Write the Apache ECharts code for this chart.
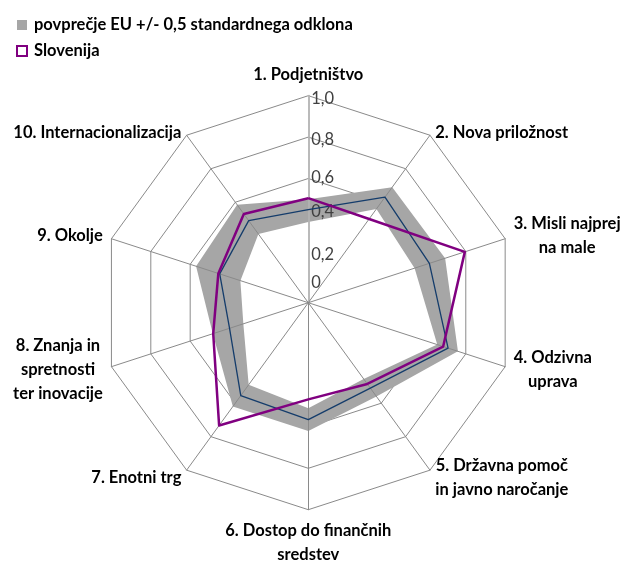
<!DOCTYPE html>
<html><head><meta charset="utf-8">
<script src="https://cdn.jsdelivr.net/npm/echarts@6/dist/echarts.min.js"></script>
<style>html,body{margin:0;padding:0;background:#fff}#c{width:626px;height:562px}</style>
</head><body><div id="c"></div>
<script>
// ---- data (clockwise order starting at the top) ----
const categories = ['1. Podjetništvo','2. Nova priložnost','3. Misli najprej\nna male','4. Odzivna\nuprava','5. Državna pomoč\nin javno naročanje','6. Dostop do finančnih\nsredstev','7. Enotni trg','8. Znanja in\nspretnosti\nter inovacije','9. Okolje','10. Internacionalizacija'];
const euAverage = [0.45, 0.63, 0.615, 0.71, 0.51, 0.565, 0.555, 0.40, 0.45, 0.49];
const euUpper   = [0.50, 0.69, 0.695, 0.76, 0.56, 0.62, 0.62, 0.485, 0.57, 0.585];
const euLower   = [0.39, 0.56, 0.54, 0.655, 0.455, 0.51, 0.49, 0.33, 0.345, 0.41];
const slovenia  = [0.505, 0.50, 0.795, 0.685, 0.485, 0.467, 0.733, 0.483, 0.457, 0.53];
const tickValues = ['0', '0,2', '0,4', '0,6', '0,8', '1,0'];
const axisMin = 0, axisMax = 1, axisSplits = 5;
const bandName = 'povprečje EU +/- 0,5 standardnega odklona';
const sloName = 'Slovenija';

// ---- styles ----
const FONT = 'Lato';
const center = [308.3, 302.7], radius = 207;
// vertical nudges of the value labels (px, + = down), mimicking the original layout
const tickShift = {'0': -20, '0,2': -7, '0,4': -8, '0,6': -1, '0,8': 3, '1,0': 3};
// vertical nudges for some category names
const nameShift = {'2. Nova priložnost': 5, '10. Internacionalizacija': 5};

// ECharts radar runs counter-clockwise: reorder so the categories run clockwise
const order = categories.map((_, i) => (categories.length - i) % categories.length);
const reorder = (arr) => order.map(i => arr[i]);

const pad = (d) => d >= 0 ? [2 * d, 0, 0, 0] : [0, 0, -2 * d, 0];
const tickRich = {};
tickValues.forEach((t, i) => {
  tickRich['t' + i] = {color: '#404040', fontFamily: FONT, fontSize: 16.5, padding: pad(tickShift[t] || 0)};
});
const nameRich = {n: {align: 'center', color: '#000', fontFamily: FONT, fontWeight: 'bold', fontSize: 16.5, lineHeight: 24}};
Object.keys(nameShift).forEach((k, i) => {
  nameRich['s' + i] = Object.assign({}, nameRich.n, {padding: pad(nameShift[k])});
});

const chart = echarts.init(document.getElementById('c'), null, {renderer: 'canvas'});
const option = {
  backgroundColor: '#ffffff',
  animation: false,
  legend: {
    orient: 'vertical', left: 16, top: 16, padding: 0, itemWidth: 10, itemHeight: 10, itemGap: 8,
    icon: 'rect', selectedMode: false,
    textStyle: {fontFamily: FONT, fontWeight: 'bold', fontSize: 16.5, lineHeight: 18, color: '#000', padding: [0, 0, 0, 2]},
    data: [
      {name: bandName, itemStyle: {color: '#a6a6a6', borderWidth: 0}},
      {name: sloName, itemStyle: {color: '#ffffff', borderColor: '#800080', borderWidth: 2}}
    ]
  },
  radar: [
    {
      center: center, radius: radius, startAngle: 90, shape: 'polygon', splitNumber: axisSplits,
      indicator: reorder(categories).map(n => ({name: n, min: axisMin, max: axisMax})),
      nameGap: 9,
      axisName: {
        color: '#000', fontFamily: FONT, fontWeight: 'bold', fontSize: 16.5,
        formatter: (name) => {
          const keys = Object.keys(nameShift);
          const si = keys.indexOf(name);
          const st = si >= 0 ? 's' + si : 'n';
          return name.split('\n').map(l => '{' + st + '|' + l + '}').join('\n');
        },
        rich: nameRich
      },
      splitLine: {lineStyle: {color: '#8a8a8a', width: 1}},
      splitArea: {show: false},
      axisLine: {show: false},
      axisTick: {show: false},
      axisLabel: {show: false},
      z: 0
    },
    {
      center: center, radius: radius, startAngle: 90, shape: 'polygon', splitNumber: axisSplits,
      indicator: categories.map((n, i) => i === 0
        ? ({name: '', min: axisMin, max: axisMax, axisLabel: {show: true},
            axisLine: {lineStyle: {color: '#b3b3b3', width: 1.8}}})
        : ({name: '', min: axisMin, max: axisMax})),
      axisName: {show: false},
      splitLine: {show: false},
      splitArea: {show: false},
      axisLine: {lineStyle: {color: '#8a8a8a', width: 1}},
      axisTick: {show: false},
      axisLabel: {
        show: false, color: '#404040', fontFamily: FONT, fontSize: 16.5, margin: -3, align: 'left',
        formatter: (v) => {
          const idx = Math.round((v - axisMin) / ((axisMax - axisMin) / axisSplits));
          return '{t' + idx + '|' + tickValues[idx] + '}';
        },
        rich: tickRich
      },
      z: 5
    }
  ],
  series: [
    {type: 'radar', radarIndex: 0, name: bandName, z: 1, symbol: 'none', silent: true,
     itemStyle: {color: '#a6a6a6'},
     lineStyle: {opacity: 0}, areaStyle: {color: '#a6a6a6', opacity: 1},
     data: [{name: bandName, value: reorder(euUpper)}]},
    {type: 'radar', radarIndex: 0, name: 'lower', z: 2, symbol: 'none', silent: true,
     lineStyle: {opacity: 0}, areaStyle: {color: '#ffffff', opacity: 1},
     data: [{name: 'lower', value: reorder(euLower)}]},
    {type: 'radar', radarIndex: 0, name: 'EU', z: 6, symbol: 'none', silent: true,
     lineStyle: {color: '#143c6b', width: 1.3},
     data: [{name: 'EU', value: reorder(euAverage)}]},
    {type: 'radar', radarIndex: 0, name: sloName, z: 7, symbol: 'none', silent: true,
     itemStyle: {color: '#800080'},
     lineStyle: {color: '#800080', width: 2.5},
     data: [{name: sloName, value: reorder(slovenia)}]}
  ]
};
chart.setOption(option);
</script></body></html>
